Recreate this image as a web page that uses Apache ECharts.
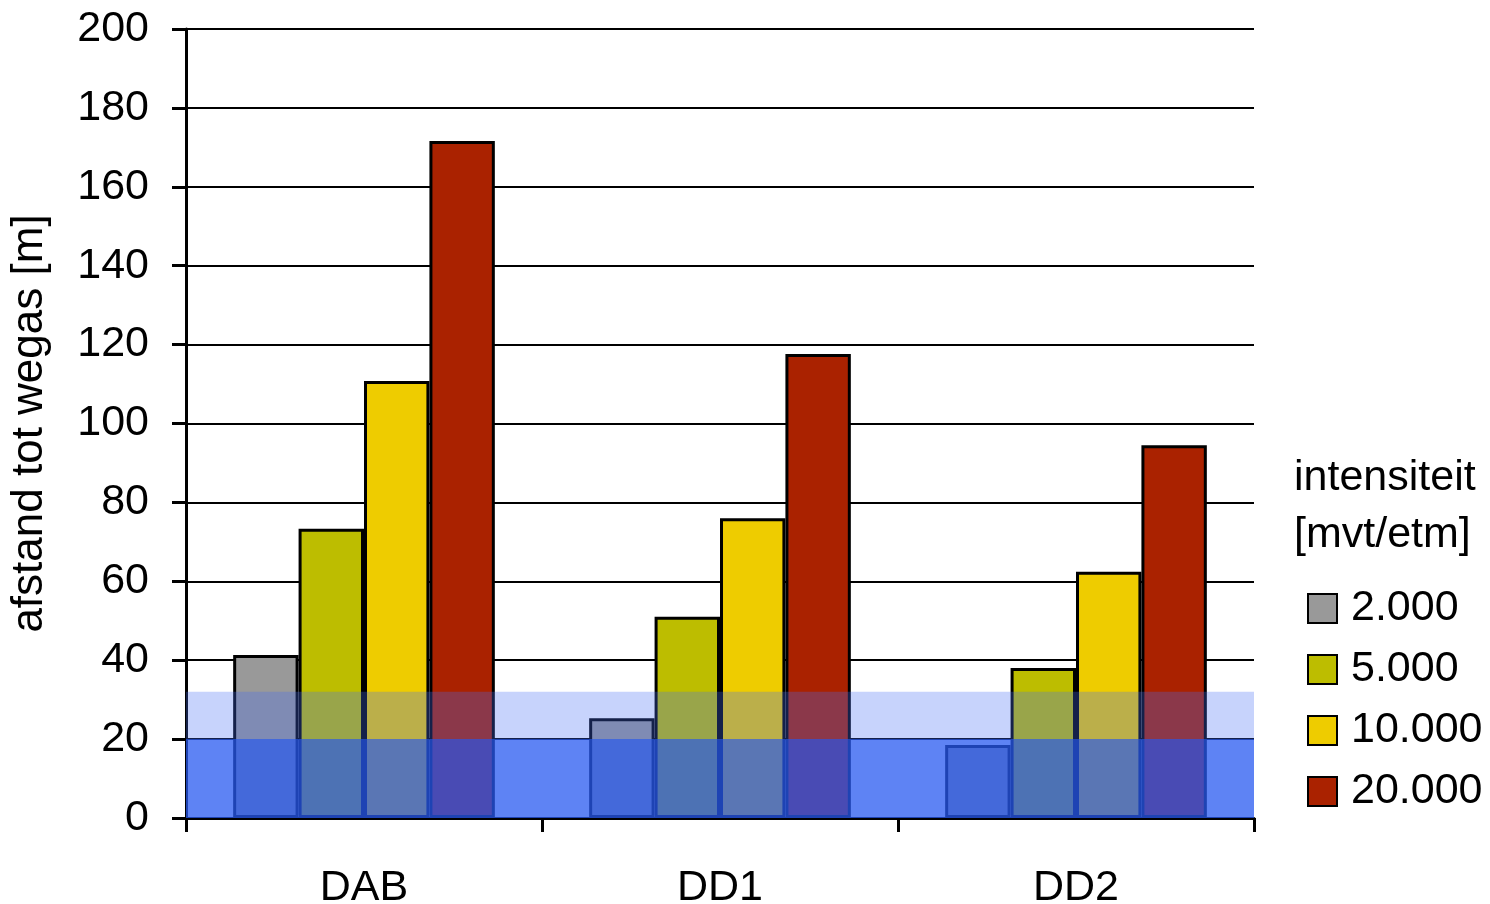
<!DOCTYPE html>
<html>
<head>
<meta charset="utf-8">
<script src="https://cdn.jsdelivr.net/npm/echarts@6/dist/echarts.min.js"></script>
<style>html,body{margin:0;padding:0;background:#fff;}#c{width:1490px;height:904px;}</style>
</head>
<body>
<div id="c"></div>
<script>
const categories = ['DAB', 'DD1', 'DD2'];
const seriesNames = ['2.000', '5.000', '10.000', '20.000'];
const s2000 = [41.3, 25.3, 18.5];
const s5000 = [73.3, 51, 38];
const s10000 = [110.8, 76, 62.4];
const s20000 = [171.6, 117.6, 94.5];
const yTicks = [0, 20, 40, 60, 80, 100, 120, 140, 160, 180, 200];
const bandLow = [0, 20];
const bandHigh = [20, 32];

const colors = ['#999999', '#bdbd00', '#eecc00', '#aa2200'];
const values = [s2000, s5000, s10000, s20000];
const FONT = '"Liberation Sans", Arial, sans-serif';
const FS = 43;

const chart = echarts.init(document.getElementById('c'), null, {renderer: 'canvas'});
const series = values.map((v, i) => ({
  name: seriesNames[i],
  type: 'bar',
  data: v,
  barGap: '0%',
  barCategoryGap: '26.5%',
  itemStyle: {color: colors[i], borderColor: '#000', borderWidth: 3},
  emphasis: {disabled: true}
}));
series[3].markArea = {
  silent: true,
  z: 10,
  data: [
    [{yAxis: bandLow[0], itemStyle: {color: 'rgba(40,90,240,0.75)'}}, {yAxis: bandLow[1]}],
    [{yAxis: bandHigh[0], itemStyle: {color: 'rgba(70,110,245,0.3)'}}, {yAxis: bandHigh[1]}]
  ]
};

chart.setOption({
  animation: false,
  backgroundColor: '#fff',
  textStyle: {fontFamily: FONT},
  grid: {left: 186, right: 236, top: 29, bottom: 86, outerBoundsMode: 'none', containLabel: false},
  legend: {
    data: seriesNames,
    orient: 'vertical',
    left: 1307,
    top: 587,
    padding: 0,
    itemWidth: 29,
    itemHeight: 29,
    itemGap: 18,
    icon: 'rect',
    textStyle: {fontFamily: FONT, fontSize: FS, lineHeight: 43, color: '#000', padding: [0, 0, 0, 9]}
  },
  graphic: [
    {type: 'text', left: 1294, top: 457, style: {text: 'intensiteit', font: FS + 'px ' + FONT, fill: '#000'}},
    {type: 'text', left: 1294, top: 514, style: {text: '[mvt/etm]', font: FS + 'px ' + FONT, fill: '#000'}}
  ],
  xAxis: {
    type: 'category',
    data: categories,
    axisLine: {lineStyle: {color: '#000', width: 3}},
    axisTick: {show: true, alignWithLabel: false, length: 14, lineStyle: {color: '#000', width: 3}},
    axisLabel: {color: '#000', fontSize: FS, fontFamily: FONT, margin: 49}
  },
  yAxis: {
    type: 'value',
    min: 0,
    max: 200,
    interval: 20,
    name: 'afstand tot wegas [m]',
    nameLocation: 'middle',
    nameGap: 134,
    nameRotate: 90,
    nameTextStyle: {color: '#000', fontSize: 44, fontFamily: FONT},
    axisLine: {show: true, lineStyle: {color: '#000', width: 3}},
    axisTick: {show: true, length: 14, lineStyle: {color: '#000', width: 3}},
    axisLabel: {color: '#000', fontSize: FS, fontFamily: FONT, margin: 37,
      formatter: v => yTicks.includes(v) ? String(v) : ''},
    splitLine: {show: true, lineStyle: {color: '#000', width: 2}}
  },
  series: series
});
</script>
</body>
</html>
